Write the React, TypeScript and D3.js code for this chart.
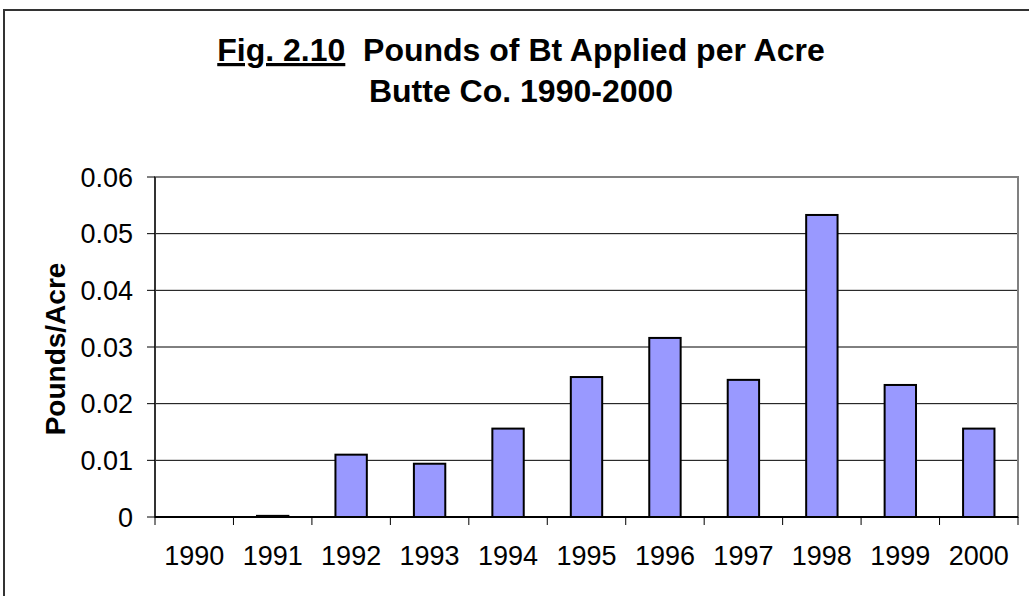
import React from "react";
import * as d3 from "d3";

const years = ["1990", "1991", "1992", "1993", "1994", "1995", "1996", "1997", "1998", "1999", "2000"];
const poundsPerAcre = [0, 0.0002, 0.011, 0.0094, 0.0156, 0.0247, 0.0316, 0.0242, 0.0533, 0.0233, 0.0156];
const yTicks = [0, 0.01, 0.02, 0.03, 0.04, 0.05, 0.06];

const W = 1029;
const H = 596;
const plot = { left: 155, right: 1018, top: 177, bottom: 517 };

export default function App() {
  const x = d3
    .scaleBand<string>()
    .domain(years)
    .range([plot.left, plot.right])
    .paddingInner(0)
    .paddingOuter(0);
  const y = d3.scaleLinear().domain([0, 0.06]).range([plot.bottom, plot.top]);
  const bw = x.bandwidth() * 0.4;
  const font = "Liberation Sans, Arial, sans-serif";

  return (
    <svg
      width={W}
      height={H}
      style={{ position: "absolute", left: 0, top: 0, display: "block", background: "#fff" }}
    >
      <rect x={4} y={10} width={W + 10} height={H + 10} fill="#fff" stroke="#333" strokeWidth={2} />
      {/* title */}
      <text
        x={521}
        y={61}
        textAnchor="middle"
        fontFamily={font}
        fontWeight="bold"
        fontSize={32}
        style={{ whiteSpace: "pre" }}
      >
        <tspan textDecoration="underline">Fig. 2.10</tspan>
        <tspan>{"  Pounds of Bt Applied per Acre"}</tspan>
      </text>
      <text x={521} y={102} textAnchor="middle" fontFamily={font} fontWeight="bold" fontSize={32}>
        Butte Co. 1990-2000
      </text>
      {/* gridlines */}
      {yTicks
        .filter((t) => t > 0 && t < 0.06)
        .map((t) => (
          <line key={t} x1={plot.left} x2={plot.right} y1={y(t)} y2={y(t)} stroke="#000" strokeWidth={1} />
        ))}
      {/* plot border */}
      <rect
        x={plot.left}
        y={plot.top}
        width={plot.right - plot.left}
        height={plot.bottom - plot.top}
        fill="none"
        stroke="#808080"
        strokeWidth={2}
      />
      {/* bars */}
      {years.map((yr, i) => {
        const v = poundsPerAcre[i];
        if (v <= 0) return null;
        const cx = (x(yr) as number) + x.bandwidth() / 2;
        const top = y(v);
        return (
          <rect
            key={yr}
            x={cx - bw / 2}
            y={top}
            width={bw}
            height={Math.max(plot.bottom - top, 0.5)}
            fill="#9999FF"
            stroke="#000"
            strokeWidth={2}
          />
        );
      })}
      {/* axes */}
      <line x1={plot.left} x2={plot.left} y1={plot.top} y2={plot.bottom} stroke="#333" strokeWidth={2} />
      <line x1={plot.left} x2={plot.right} y1={plot.bottom} y2={plot.bottom} stroke="#000" strokeWidth={2} />
      {yTicks.map((t) => (
        <g key={t}>
          <line x1={plot.left - 8} x2={plot.left} y1={y(t)} y2={y(t)} stroke="#000" strokeWidth={1} />
          <text
            x={plot.left - 22}
            y={y(t)}
            dy="0.36em"
            textAnchor="end"
            fontFamily={font}
            fontSize={27}
          >
            {String(t)}
          </text>
        </g>
      ))}
      {years.map((yr) => (
        <line
          key={"t" + yr}
          x1={x(yr) as number}
          x2={x(yr) as number}
          y1={plot.bottom}
          y2={plot.bottom + 8}
          stroke="#000"
          strokeWidth={1}
        />
      ))}
      <line x1={plot.right} x2={plot.right} y1={plot.bottom} y2={plot.bottom + 8} stroke="#000" strokeWidth={1} />
      {years.map((yr) => (
        <text
          key={"l" + yr}
          x={(x(yr) as number) + x.bandwidth() / 2}
          y={565}
          textAnchor="middle"
          fontFamily={font}
          fontSize={27}
        >
          {yr}
        </text>
      ))}
      <text
        transform={`translate(65,349) rotate(-90)`}
        textAnchor="middle"
        fontFamily={font}
        fontWeight="bold"
        fontSize={28}
      >
        Pounds/Acre
      </text>
    </svg>
  );
}
